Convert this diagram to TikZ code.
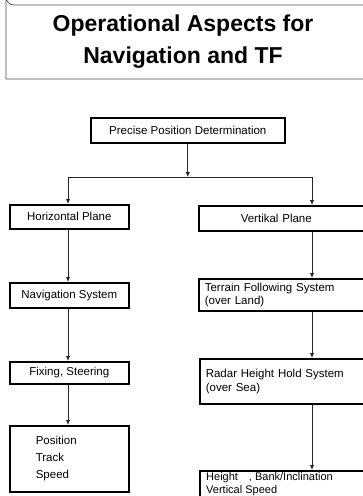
\documentclass[tikz,border=0pt]{standalone}
\usepackage{fontspec}
\setmainfont{Liberation Sans}
\usetikzlibrary{arrows.meta}
\begin{document}
\begin{tikzpicture}[x=1pt,y=-1pt,
  box/.style={draw=black,line width=1.6pt,inner sep=0pt,font=\fontsize{11.5}{13.5}\selectfont},
  lbox/.style={box,anchor=north west,minimum width=119pt},
  rbox/.style={box,anchor=north west,minimum width=190pt,text width=178pt,align=left,inner xsep=6pt},
  conn/.style={draw=black!85,line width=0.9pt},
  arr/.style={conn,-{Latex[length=5pt,width=4.5pt]}}]
\useasboundingbox (0,0) rectangle (363,496);
\clip (0,0) rectangle (363,496);
% title frame
\draw[black!70,line width=0.7pt] (380,5) -- (14,5) arc[start angle=90,end angle=180,radius=8] -- (6,79) -- (380,79);
\node[font=\fontsize{23}{32}\selectfont\bfseries,align=center] (title) at (183,42)
  {Operational Aspects for\\Navigation and TF};
% top box
\node[box,anchor=north west,minimum width=194pt,minimum height=25pt] (ppd) at (90,117) {Precise Position Determination};
% left column
\node[lbox,minimum height=24pt] (hor) at (9,204) {Horizontal Plane};
\node[lbox,minimum height=25pt] (nav) at (9,282) {Navigation System};
\node[lbox,minimum height=22pt] (fix) at (9,361) {Fixing, Steering};
\node[lbox,minimum height=66pt,align=left,text width=119pt,inner xsep=0pt] (pos) at (9,425)
  {\hspace*{26pt}Position\\[3.5pt]\hspace*{26pt}Track\\[3.5pt]\hspace*{26pt}Speed};
% right column
\node[rbox,minimum height=25pt] (ver) at (198,205) {\hspace*{36pt}Vertikal Plane};
\node[rbox,minimum height=32pt] (ter) at (198,278) {Terrain Following System\\(over Land)};
\node[rbox,minimum height=45pt] (rad) at (199,358) {Radar Height Hold System\\(over Sea)};
\node[rbox,minimum height=26.5pt,
  label={[anchor=north west,align=left,inner sep=0pt,font=\fontsize{11}{12.5}\selectfont,xshift=7pt,yshift=-2.5pt]north west:Height\quad, Bank/Inclination\\Vertical Speed}]
  (hgt) at (199,470) {};
% connectors
\coordinate (lx) at (68,0);
\coordinate (rx) at (312,0);
\coordinate (split) at (ppd.south |- 0,177);
\draw[arr] (ppd.south) -- (split);
\draw[conn] (split -| lx) -- (split -| rx);
\draw[arr] (split -| lx) -- (hor.north -| lx);
\draw[arr] (split -| rx) -- (ver.north -| rx);
\draw[arr] (hor.south -| lx) -- (nav.north -| lx);
\draw[arr] (nav.south -| lx) -- (fix.north -| lx);
\draw[arr] (fix.south -| lx) -- (pos.north -| lx);
\draw[arr] (ver.south -| rx) -- (ter.north -| rx);
\draw[arr] (ter.south -| rx) -- (rad.north -| rx);
\draw[arr] (rad.south -| rx) -- (hgt.north -| rx);
\end{tikzpicture}
\end{document}
